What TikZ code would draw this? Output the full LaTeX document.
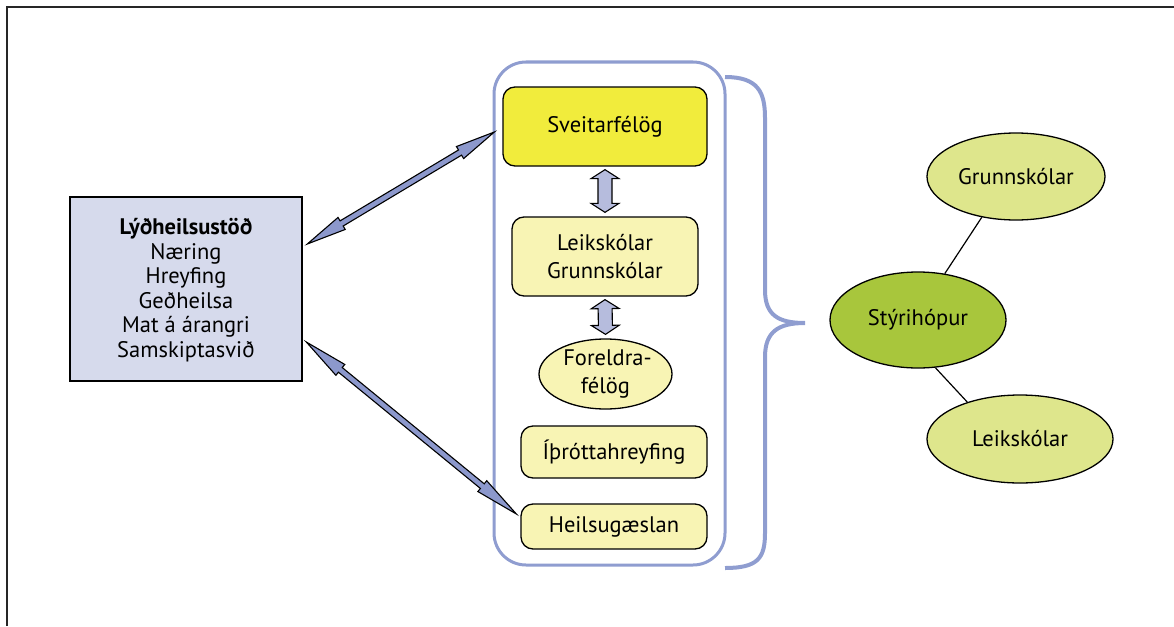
\documentclass[tikz,border=0pt]{standalone}
\usepackage{fontspec}
\setmainfont{PT Sans}
\usetikzlibrary{calc,shapes.geometric}
\definecolor{frameblue}{RGB}{143,157,208}
\definecolor{lavfill}{RGB}{214,218,236}
\definecolor{arrfill}{RGB}{140,152,204}
\definecolor{varrfill}{RGB}{182,188,221}
\definecolor{ybright}{RGB}{241,236,60}
\definecolor{ylight}{RGB}{248,244,180}
\definecolor{gdark}{RGB}{168,198,60}
\definecolor{glight}{RGB}{222,230,140}
\newcommand{\dblarr}[6]{%
  \coordinate (p1) at ($(#2)!#4!(#3)$);
  \coordinate (p2) at ($(#3)!#4!(#2)$);
  \draw[#1] (#2) -- ($(p1)!#5!90:(#3)$) -- ($(p1)!#6!90:(#3)$) -- ($(p2)!#6!-90:(#2)$) -- ($(p2)!#5!-90:(#2)$) -- (#3) -- ($(p2)!#5!90:(#2)$) -- ($(p2)!#6!90:(#2)$) -- ($(p1)!#6!-90:(#3)$) -- ($(p1)!#5!-90:(#3)$) -- cycle;}
\tikzset{
  txt/.style={font=\fontsize{22.5}{24.5}\selectfont, align=center, text=black, inner sep=0pt},
  ybox/.style={txt, draw=black, line width=1.3pt, rounded corners=12pt},
  ell/.style={txt, ellipse, draw=black, line width=1.3pt},
  diagarr/.style={draw=black, line width=1.1pt, fill=arrfill, line join=miter},
  vertarr/.style={draw=black, line width=1.1pt, fill=varrfill, line join=miter},
  link/.style={draw=black, line width=1.2pt},
}
\begin{document}
\begin{tikzpicture}[x=1pt,y=-1pt]
\useasboundingbox (0,0) rectangle (1174,626);
% frame
\draw[line width=2pt, black!85] (7,626) -- (7,7) -- (1174,7);
% left box
\node[txt, draw=black, line width=2.6pt, fill=lavfill, minimum width=232pt, minimum height=184pt] (lyd) at (186,289) {};
\node[txt] (lydt) at (186,290) {\textbf{Lýðheilsustöð}\\Næring\\Hreyfing\\Geðheilsa\\Mat á árangri\\Samskiptasvið};
% container
\draw[frameblue, line width=3pt, rounded corners=32pt] (494,62) rectangle (725,565);
% inner boxes
\node[ybox, fill=ybright, minimum width=204pt, minimum height=79pt] (sv) at (605,126.5) {Sveitarfélög};
\node[ybox, fill=ylight, minimum width=186pt, minimum height=79pt, font=\fontsize{22.5}{28}\selectfont] (lg) at (605,256.5) {Leikskólar\\Grunnskólar};
\node[ell, fill=ylight, minimum width=133pt, minimum height=70pt, font=\fontsize{22.5}{28}\selectfont] (fo) at (605.5,374) {\hspace*{4pt}Foreldra-\\félög};
\node[ybox, fill=ylight, minimum width=186pt, minimum height=52pt] (ith) at (614,452) {Íþróttahreyfing};
\node[ybox, fill=ylight, minimum width=186pt, minimum height=45pt] (hg) at (614,526.5) {Heilsugæslan};
% vertical arrows
\coordinate (v1a) at ($(sv.south)+(0,3)$);
\coordinate (v1b) at ($(lg.north)+(0,-4)$);
\coordinate (v2a) at ($(lg.south)+(0,3)$);
\coordinate (v2b) at ($(fo.north)+(0,-4)$);
\dblarr{vertarr}{v1a}{v1b}{9pt}{14pt}{7pt}
\dblarr{vertarr}{v2a}{v2b}{9pt}{14pt}{7pt}
% diagonal arrows
\coordinate (d1a) at ($(lyd.east)+(4,-45)$);
\coordinate (d1b) at ($(sv.west)+(-8,5.5)$);
\coordinate (d2a) at ($(lyd.east)+(3,53)$);
\coordinate (d2b) at ($(hg.west)+(-4,-12.5)$);
\dblarr{diagarr}{d1a}{d1b}{40pt}{7pt}{3pt}
\dblarr{diagarr}{d2a}{d2b}{44pt}{7pt}{3pt}
% brace
\draw[frameblue, line width=4pt] (725,77) .. controls (758,77) and (765,92) .. (765,118) -- (765,290) .. controls (765,315) and (778,323) .. (805,323) .. controls (778,323) and (765,332) .. (765,357) -- (765,533) .. controls (765,558) and (758,568) .. (725,568);
% right ellipses
\node[ell, fill=gdark, minimum width=176pt, minimum height=96pt] (st) at (918,320) {Stýrihópur};
\node[ell, fill=glight, minimum width=178pt, minimum height=87pt] (gr) at (1016,176.5) {Grunnskólar};
\node[ell, fill=glight, minimum width=186pt, minimum height=88pt] (lk) at (1020,439) {Leikskólar};
\draw[link] (gr.230) -- (st.60);
\draw[link] (st.290) -- (lk.145);
\end{tikzpicture}
\end{document}
